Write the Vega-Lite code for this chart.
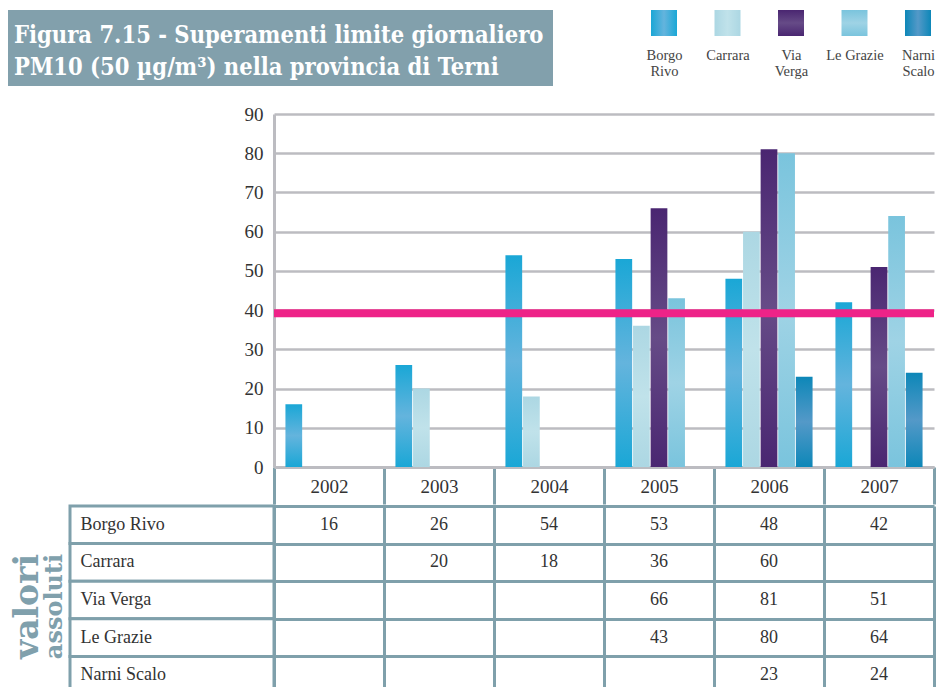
{
  "$schema": "https://vega.github.io/schema/vega-lite/v6.json",
  "background": "white",
  "padding": {"left": 8, "top": 10, "right": 0, "bottom": -6},
  "config": {
    "view": {"stroke": null},
    "font": "Liberation Serif",
    "axis": {"labelFont": "Liberation Serif", "labelColor": "#333333"}
  },
  "datasets": {
    "counts": [
      {"site": "Borgo Rivo", "year": "2002", "value": 16},
      {"site": "Borgo Rivo", "year": "2003", "value": 26},
      {"site": "Borgo Rivo", "year": "2004", "value": 54},
      {"site": "Borgo Rivo", "year": "2005", "value": 53},
      {"site": "Borgo Rivo", "year": "2006", "value": 48},
      {"site": "Borgo Rivo", "year": "2007", "value": 42},
      {"site": "Carrara", "year": "2003", "value": 20},
      {"site": "Carrara", "year": "2004", "value": 18},
      {"site": "Carrara", "year": "2005", "value": 36},
      {"site": "Carrara", "year": "2006", "value": 60},
      {"site": "Via Verga", "year": "2005", "value": 66},
      {"site": "Via Verga", "year": "2006", "value": 81},
      {"site": "Via Verga", "year": "2007", "value": 51},
      {"site": "Le Grazie", "year": "2005", "value": 43},
      {"site": "Le Grazie", "year": "2006", "value": 80},
      {"site": "Le Grazie", "year": "2007", "value": 64},
      {"site": "Narni Scalo", "year": "2006", "value": 23},
      {"site": "Narni Scalo", "year": "2007", "value": 24}
    ],
    "sites": [
      {"site": "Borgo Rivo"},
      {"site": "Carrara"},
      {"site": "Via Verga"},
      {"site": "Le Grazie"},
      {"site": "Narni Scalo"}
    ]
  },
  "spacing": 19,
  "vconcat": [
    {
      "bounds": "flush",
      "spacing": 93,
      "hconcat": [
        {
          "width": 545,
          "height": 76,
          "data": {"values": [{"figura": "7.15"}]},
          "mark": {"type": "rect", "color": "#82a0ac"},
          "title": {
            "text": ["Figura 7.15 - Superamenti limite giornaliero", "PM10 (50 µg/m³) nella provincia di Terni"],
            "anchor": "start",
            "orient": "top",
            "frame": "group",
            "offset": -69,
            "dx": 6,
            "baseline": "top",
            "font": "DejaVu Serif Condensed, DejaVu Serif",
            "fontSize": 23.5,
            "fontWeight": "bold",
            "color": "white",
            "lineHeight": 32
          }
        },
        {
          "width": 290,
          "height": 26,
          "data": {"name": "sites"},
          "mark": {"type": "square", "size": 676, "opacity": 1},
          "encoding": {
            "x": {
              "field": "site", "type": "nominal", "title": null,
              "scale": {"type": "point", "padding": 0.2835, "domain": ["Borgo Rivo", "Carrara", "Via Verga", "Le Grazie", "Narni Scalo"]},
              "axis": {
                "orient": "bottom", "domain": false, "ticks": false, "grid": false,
                "labelAngle": 0, "labelPadding": 12, "labelFontSize": 14.5, "labelColor": "#444444",
                "labelLineHeight": 16, "labelBaseline": "top", "labelLimit": 200,
                "labelExpr": "datum.label == 'Le Grazie' ? datum.label : split(datum.label, ' ')"
              }
            },
            "fill": {
              "condition": [
                {"test": "datum.site === 'Borgo Rivo'", "value": {"gradient": "linear", "x1": 0, "y1": 0, "x2": 1, "y2": 0, "stops": [{"offset": 0, "color": "#1aa7d6"}, {"offset": 0.5, "color": "#64b4dd"}, {"offset": 1, "color": "#1aa7d6"}]}},
                {"test": "datum.site === 'Carrara'", "value": {"gradient": "linear", "x1": 0, "y1": 0, "x2": 1, "y2": 0, "stops": [{"offset": 0, "color": "#acd7e3"}, {"offset": 0.5, "color": "#c0e2ea"}, {"offset": 1, "color": "#acd7e3"}]}},
                {"test": "datum.site === 'Via Verga'", "value": {"gradient": "linear", "x1": 0, "y1": 0, "x2": 0, "y2": 1, "stops": [{"offset": 0, "color": "#4a2671"}, {"offset": 0.5, "color": "#664b87"}, {"offset": 1, "color": "#4a2671"}]}},
                {"test": "datum.site === 'Le Grazie'", "value": {"gradient": "linear", "x1": 0, "y1": 0, "x2": 0, "y2": 1, "stops": [{"offset": 0, "color": "#7ac4dd"}, {"offset": 0.5, "color": "#9fd3e5"}, {"offset": 1, "color": "#7ac4dd"}]}},
                {"test": "datum.site === 'Narni Scalo'", "value": {"gradient": "linear", "x1": 0, "y1": 0, "x2": 1, "y2": 0, "stops": [{"offset": 0, "color": "#0d87b8"}, {"offset": 0.5, "color": "#5499c8"}, {"offset": 1, "color": "#0d87b8"}]}}
              ],
              "value": "#999999"
            }
          }
        }
      ]
    },
    {
      "spacing": -4,
      "vconcat": [
        {
          "bounds": "flush",
          "spacing": 0,
          "hconcat": [
            {
              "width": 266,
              "height": 1,
              "data": {"values": []},
              "mark": "point"
            },
            {
              "width": 660,
              "height": 353,
              "data": {"name": "counts"},
              "layer": [
                {
                  "mark": {"type": "bar"},
                  "encoding": {
                    "x": {
                      "field": "year", "type": "ordinal", "title": null,
                      "scale": {"paddingInner": 0, "paddingOuter": 0},
                      "axis": {
                        "orient": "bottom", "tickBand": "extent", "ticks": true, "tickSize": 37,
                        "tickColor": "#7fa0ab", "tickWidth": 3, "domain": true, "domainColor": "#bcbcc1",
                        "domainWidth": 3, "grid": false, "labelAngle": 0, "labelFontSize": 19,
                        "labelBaseline": "middle", "labelPadding": -18
                      }
                    },
                    "xOffset": {
                      "field": "site", "type": "nominal",
                      "scale": {"domain": ["Borgo Rivo", "Carrara", "Via Verga", "Le Grazie", "Narni Scalo"], "paddingInner": 0.05, "paddingOuter": 0.65}
                    },
                    "y": {
                      "field": "value", "type": "quantitative", "title": null,
                      "scale": {"domain": [0, 90], "nice": false},
                      "axis": {
                        "values": [0, 10, 20, 30, 40, 50, 60, 70, 80, 90], "ticks": false, "labelOverlap": false,
                        "domainColor": "#bcbcc1", "domainWidth": 3, "gridColor": "#bcbcc1", "gridWidth": 2.5,
                        "labelFontSize": 19, "labelPadding": 11
                      }
                    },
                    "fill": {
                      "condition": [
                        {"test": "datum.site === 'Borgo Rivo'", "value": {"gradient": "linear", "x1": 0, "y1": 0, "x2": 0, "y2": 1, "stops": [{"offset": 0, "color": "#1aa7d6"}, {"offset": 0.5, "color": "#64b4dd"}, {"offset": 1, "color": "#1aa7d6"}]}},
                        {"test": "datum.site === 'Carrara'", "value": {"gradient": "linear", "x1": 0, "y1": 0, "x2": 0, "y2": 1, "stops": [{"offset": 0, "color": "#acd7e3"}, {"offset": 0.5, "color": "#c0e2ea"}, {"offset": 1, "color": "#acd7e3"}]}},
                        {"test": "datum.site === 'Via Verga'", "value": {"gradient": "linear", "x1": 0, "y1": 0, "x2": 0, "y2": 1, "stops": [{"offset": 0, "color": "#4a2671"}, {"offset": 0.5, "color": "#664b87"}, {"offset": 1, "color": "#4a2671"}]}},
                        {"test": "datum.site === 'Le Grazie'", "value": {"gradient": "linear", "x1": 0, "y1": 0, "x2": 0, "y2": 1, "stops": [{"offset": 0, "color": "#7ac4dd"}, {"offset": 0.5, "color": "#9fd3e5"}, {"offset": 1, "color": "#7ac4dd"}]}},
                        {"test": "datum.site === 'Narni Scalo'", "value": {"gradient": "linear", "x1": 0, "y1": 0, "x2": 0, "y2": 1, "stops": [{"offset": 0, "color": "#0d87b8"}, {"offset": 0.5, "color": "#5499c8"}, {"offset": 1, "color": "#0d87b8"}]}}
                      ],
                      "value": "#999999"
                    }
                  }
                },
                {
                  "data": {"values": [{"limite": 39.2}]},
                  "mark": {"type": "rule", "color": "#ee2388", "strokeWidth": 8},
                  "encoding": {
                    "y": {
                      "field": "limite", "type": "quantitative", "title": null,
                      "axis": {
                        "values": [0, 10, 20, 30, 40, 50, 60, 70, 80, 90], "ticks": false, "labelOverlap": false,
                        "domainColor": "#bcbcc1", "domainWidth": 3, "gridColor": "#bcbcc1", "gridWidth": 2.5,
                        "labelFontSize": 19, "labelPadding": 11
                      }
                    }
                  }
                }
              ]
            }
          ]
        },
        {
          "bounds": "flush",
          "spacing": 0,
          "hconcat": [
            {
              "width": 62,
              "height": 188,
              "layer": [
                {
                  "data": {"values": [{"parola": "valori"}]},
                  "mark": {"type": "text", "angle": 270, "font": "DejaVu Serif", "fontWeight": "bold", "fontSize": 33, "color": "#80a0ac", "baseline": "alphabetic", "dx": -6.5, "dy": -1},
                  "encoding": {"text": {"field": "parola"}}
                },
                {
                  "data": {"values": [{"parola": "assoluti"}]},
                  "mark": {"type": "text", "angle": 270, "font": "DejaVu Serif", "fontWeight": "bold", "fontSize": 24, "color": "#80a0ac", "baseline": "alphabetic", "dx": -6.5, "dy": 23},
                  "encoding": {"text": {"field": "parola"}}
                }
              ]
            },
            {
              "width": 204,
              "height": 188,
              "data": {"name": "sites"},
              "mark": {"type": "rect", "fill": "white", "stroke": "#7fa0ab", "strokeWidth": 3},
              "encoding": {
                "y": {
                  "field": "site", "type": "nominal", "title": null,
                  "scale": {"domain": ["Borgo Rivo", "Carrara", "Via Verga", "Le Grazie", "Narni Scalo"], "paddingInner": 0, "paddingOuter": 0},
                  "axis": {"domain": false, "ticks": false, "grid": false, "labelAlign": "left", "labelPadding": -10, "labelFontSize": 18, "labelColor": "#333333", "zindex": 1}
                }
              }
            },
            {
              "width": 660,
              "height": 188,
              "data": {"name": "counts"},
              "mark": {"type": "text", "fontSize": 18, "color": "#333333", "font": "Liberation Serif"},
              "encoding": {
                "x": {
                  "field": "year", "type": "ordinal", "title": null,
                  "scale": {"type": "band", "paddingInner": 0, "paddingOuter": 0},
                  "axis": {"tickBand": "extent", "labels": false, "ticks": false, "domain": false, "grid": true, "gridColor": "#7fa0ab", "gridWidth": 3}
                },
                "y": {
                  "field": "site", "type": "nominal", "title": null,
                  "scale": {"type": "band", "domain": ["Borgo Rivo", "Carrara", "Via Verga", "Le Grazie", "Narni Scalo"], "paddingInner": 0, "paddingOuter": 0},
                  "axis": {"tickBand": "extent", "labels": false, "ticks": false, "domain": false, "grid": true, "gridColor": "#7fa0ab", "gridWidth": 3}
                },
                "text": {"field": "value", "type": "quantitative"}
              }
            }
          ]
        }
      ]
    }
  ]
}
